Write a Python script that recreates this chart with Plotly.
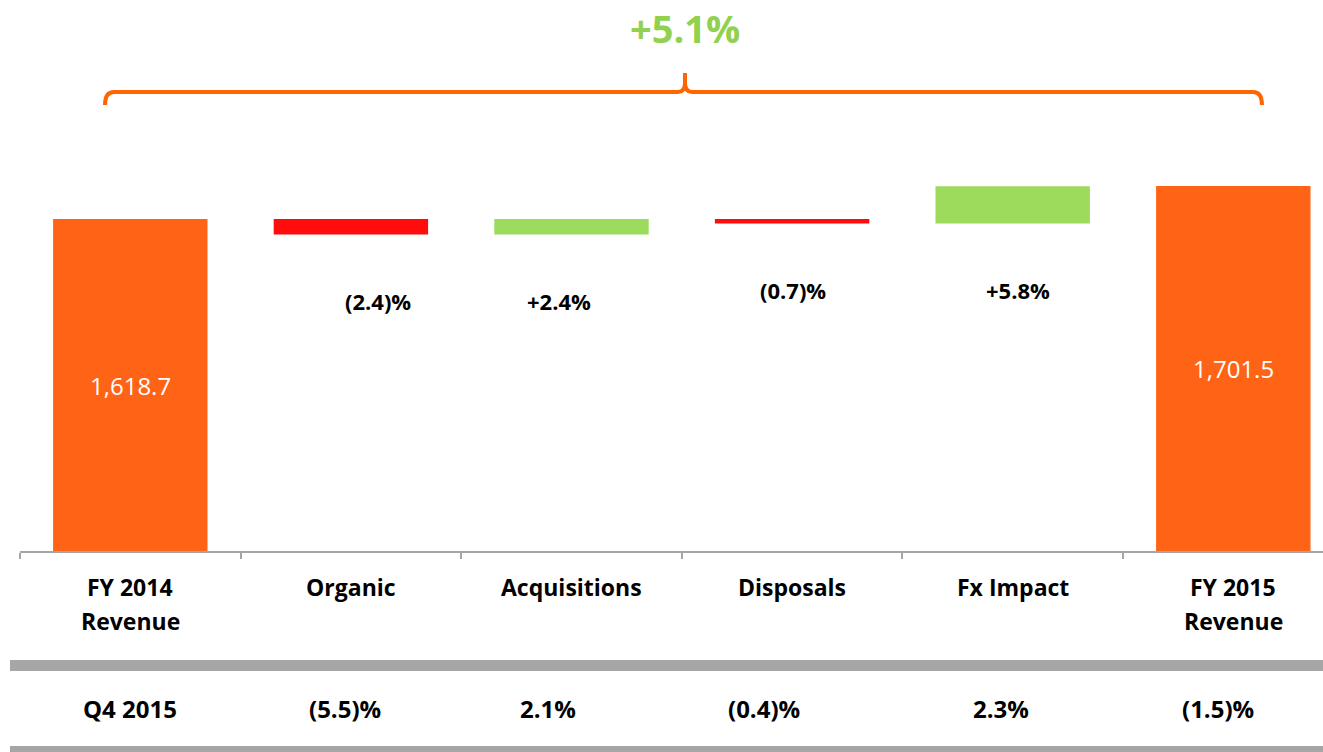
import plotly.graph_objects as go

# ---------------- data ----------------
categories = ["FY 2014 Revenue", "Organic", "Acquisitions", "Disposals", "Fx Impact", "FY 2015 Revenue"]
category_lines = [["FY 2014", "Revenue"], ["Organic"], ["Acquisitions"], ["Disposals"], ["Fx Impact"], ["FY 2015", "Revenue"]]
start_revenue = 1618.7
end_revenue = 1701.5
change_pct = [-2.4, 2.4, -0.7, 5.8]
change_labels = ["(2.4)%", "+2.4%", "(0.7)%", "+5.8%"]
total_labels = ["1,618.7", "1,701.5"]
q4_labels = ["Q4 2015", "(5.5)%", "2.1%", "(0.4)%", "2.3%", "(1.5)%"]
total_growth_label = "+5.1%"

# ---------------- styles ----------------
ORANGE = "#FF6315"
RED = "#FF0D0D"
GREEN = "#9CDB5B"
BRACKET = "#FF6600"
GROWTH = "#92D050"
GREY = "#A6A6A6"
FONT = "Open Sans, Lato, Liberation Sans, sans-serif"

W, H = 1323, 752
L, R, T, B = 20, 0, 120, 201
Y0 = 786.0
PX_PER_UNIT = 0.3986
plot_w = W - L - R
plot_h = H - T - B
y_range = [Y0, Y0 + plot_h / PX_PER_UNIT]
cat_px = 220.6
x_range = [-0.5, -0.5 + plot_w / cat_px]

def px(xp):
    return (xp - L) / plot_w

def py(yp):
    return (H - B - yp) / plot_h

# ---------------- waterfall geometry ----------------
deltas = [start_revenue * p / 100.0 for p in change_pct]
levels = [start_revenue]
for d in deltas:
    levels.append(levels[-1] + d)

chg_cats = categories[1:5]
chg_base = [min(levels[i], levels[i + 1]) for i in range(4)]
chg_height = [abs(d) for d in deltas]

fig = go.Figure()

# totals
fig.add_trace(go.Bar(
    x=[categories[0], categories[5]], y=[start_revenue, end_revenue], base=[0, 0],
    marker=dict(color=ORANGE, line=dict(width=0)), width=0.7, showlegend=False,
    hoverinfo="skip",
))
dec_idx = [i for i, d in enumerate(deltas) if d < 0]
inc_idx = [i for i, d in enumerate(deltas) if d >= 0]
fig.add_trace(go.Bar(
    x=[chg_cats[i] for i in dec_idx], y=[chg_height[i] for i in dec_idx],
    base=[chg_base[i] for i in dec_idx],
    marker=dict(color=RED, line=dict(width=0)), width=0.7, showlegend=False, hoverinfo="skip",
))
fig.add_trace(go.Bar(
    x=[chg_cats[i] for i in inc_idx], y=[chg_height[i] for i in inc_idx],
    base=[chg_base[i] for i in inc_idx],
    marker=dict(color=GREEN, line=dict(width=0)), width=0.7, showlegend=False, hoverinfo="skip",
))

annotations = []

# values inside total bars
for cat, val, lab in zip([categories[0], categories[5]], [start_revenue, end_revenue], total_labels):
    annotations.append(dict(
        x=cat, y=(Y0 + val) / 2, xref="x", yref="y", text=lab, showarrow=False,
        font=dict(family=FONT, size=24, color="white"),
    ))

# change labels below each floating bar
label_xshift = [27, -13, 1, 5]
for i in range(4):
    annotations.append(dict(
        x=chg_cats[i], y=chg_base[i], xref="x", yref="y", text="<b>%s</b>" % change_labels[i],
        showarrow=False, yanchor="middle", yshift=-66, xshift=label_xshift[i],
        font=dict(family=FONT, size=22, color="black"),
    ))

# category labels (two-line with wide spacing)
line_y = [py(587), py(621)]
for cat, lines in zip(categories, category_lines):
    for j, t in enumerate(lines):
        annotations.append(dict(
            x=cat, y=line_y[j], xref="x", yref="paper", text="<b>%s</b>" % t,
            showarrow=False, yanchor="middle",
            font=dict(family=FONT, size=23, color="black"),
        ))

# Q4 2015 row
row_xshift = [0, -6, -24, -28, -12, -15]
for cat, t, s in zip(categories, q4_labels, row_xshift):
    annotations.append(dict(
        x=cat, y=py(708), xref="x", yref="paper", text="<b>%s</b>" % t,
        showarrow=False, yanchor="middle", xshift=s,
        font=dict(family=FONT, size=24, color="black"),
    ))

# overall growth label
annotations.append(dict(
    x=px(685), y=py(28), xref="paper", yref="paper", text="<b>%s</b>" % total_growth_label,
    showarrow=False, yanchor="middle",
    font=dict(family=FONT, size=38, color=GROWTH),
))

# bracket path
pts = [
    ("M", 105, 105), ("Q", 105, 92, 114, 92), ("L", 678, 92), ("Q", 685, 92, 685, 83),
    ("L", 685, 73), ("L", 685, 83), ("Q", 685, 92, 692, 92), ("L", 1253, 92),
    ("Q", 1262, 92, 1262, 105),
]
path = ""
for p in pts:
    cmd = p[0]
    coords = p[1:]
    s = []
    for k in range(0, len(coords), 2):
        s.append("%.5f,%.5f" % (px(coords[k]), py(coords[k + 1])))
    path += cmd + " " + " ".join(s) + " "

shapes = [
    dict(type="path", xref="paper", yref="paper", path=path.strip(),
         line=dict(color=BRACKET, width=4)),
    dict(type="rect", xref="paper", yref="paper", x0=px(10), x1=px(1323), y0=py(660), y1=py(671),
         fillcolor=GREY, line=dict(width=0)),
    dict(type="rect", xref="paper", yref="paper", x0=px(10), x1=px(1323), y0=py(746), y1=py(752),
         fillcolor=GREY, line=dict(width=0)),
]

fig.update_layout(
    width=W, height=H,
    margin=dict(l=L, r=R, t=T, b=B),
    paper_bgcolor="white", plot_bgcolor="white",
    barmode="overlay",
    annotations=annotations,
    shapes=shapes,
    xaxis=dict(
        type="category", categoryorder="array", categoryarray=categories,
        range=x_range, showticklabels=False, showgrid=False, zeroline=False,
        showline=True, linecolor=GREY, linewidth=2,
        ticks="outside", tickson="boundaries", ticklen=6, tickcolor=GREY, tickwidth=1.5,
    ),
    yaxis=dict(range=y_range, visible=False, showgrid=False, zeroline=False),
)

fig.write_html(
    "out.html",
    config={"displayModeBar": False},
    post_script="document.body.style.margin='0';document.body.style.overflow='hidden';",
)
